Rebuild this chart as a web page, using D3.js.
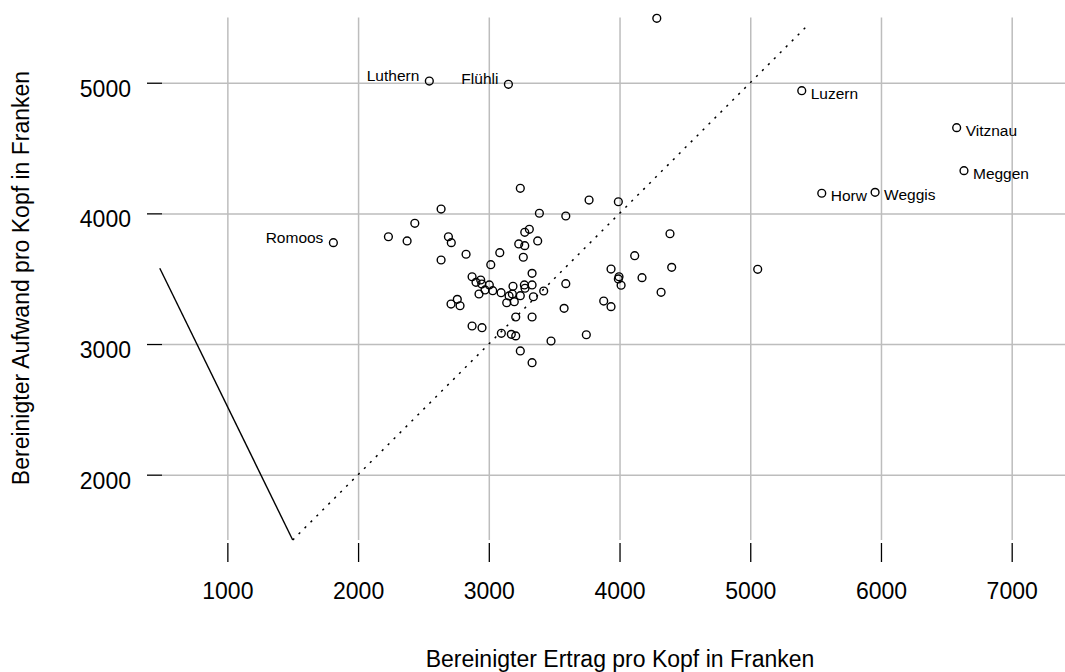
<!DOCTYPE html>
<html>
<head>
<meta charset="utf-8">
<script src="https://cdn.jsdelivr.net/npm/d3@7"></script>
<style>
  body { margin: 0; background: #fff; }
  text { font-family: "Liberation Sans", Arial, sans-serif; fill: #000; }
  .grid line { stroke: #bdbdbd; stroke-width: 1.5; }
  .grid .domain { display: none; }
  .axis .domain { display: none; }
  .axis line { stroke: #000; stroke-width: 1.3; }
</style>
</head>
<body>
<div id="chart"></div>
<script>
// Bereinigter Ertrag (x) und Aufwand (y) pro Kopf, Gemeinden Kanton Luzern
const ertrag = [
    3241, 3767, 3991, 2635, 3387, 3589, 2434, 4386, 2375, 2691,
    2713, 3275, 3310, 3374, 3229, 3275, 3084, 2826, 2635, 3264,
    4116, 4399, 3015, 3935, 3331, 2872, 3996, 2902, 2938, 2946,
    3004, 2971, 3030, 2925, 3094, 3185, 3272, 3277, 3331, 3420,
    3589, 4172, 4012, 3991, 4318, 3155, 3180, 3241, 3341, 3137,
    3195, 2759, 2711, 2780, 3879, 3935, 3206, 3331, 3576, 2872,
    2948, 3096, 3172, 3206, 3746, 3476, 3241, 3331, 2232, 4285,
    5057,
    1811, 2545, 3150, 5394, 6579, 6635, 5547, 5955
];
const aufwand = [
    4192, 4102, 4089, 4033, 4001, 3980, 3924, 3844, 3789, 3821,
    3776, 3855, 3878, 3789, 3766, 3753, 3699, 3687, 3643, 3664,
    3676, 3587, 3607, 3574, 3541, 3515, 3515, 3472, 3490, 3459,
    3452, 3414, 3408, 3383, 3393, 3442, 3452, 3427, 3452, 3406,
    3462, 3508, 3450, 3498, 3396, 3368, 3383, 3370, 3362, 3316,
    3324, 3342, 3306, 3293, 3329, 3286, 3207, 3207, 3273, 3138,
    3125, 3082, 3074, 3062, 3071, 3023, 2947, 2857, 3821, 5493,
    3572,
    3776, 5013, 4988, 4939, 4656, 4327, 4154, 4161
];
const gemeinde = [
    "", "", "", "", "", "", "", "", "", "",
    "", "", "", "", "", "", "", "", "", "",
    "", "", "", "", "", "", "", "", "", "",
    "", "", "", "", "", "", "", "", "", "",
    "", "", "", "", "", "", "", "", "", "",
    "", "", "", "", "", "", "", "", "", "",
    "", "", "", "", "", "", "", "", "", "",
    "",
    "Romoos", "Luthern", "Flühli", "Luzern", "Vitznau", "Meggen", "Horw", "Weggis"
];
const labelsLeft = ["Romoos", "Luthern", "Flühli"];

const xTicks = [1000, 2000, 3000, 4000, 5000, 6000, 7000];
const yTicks = [2000, 3000, 4000, 5000];

// Winkelhalbierende (gepunktet) und Hilfslinie (durchgezogen)
const diagX = [1500, 5450];
const diagY = [1500, 5450];
const refX = [483, 1500];
const refY = [3580, 1500];

const xLab = "Bereinigter Ertrag pro Kopf in Franken";
const yLab = "Bereinigter Aufwand pro Kopf in Franken";

const width = 1065;
const height = 672;
const margin = { top: 17.4, left: 162 };
const innerWidth = 904.6;
const innerHeight = 522.6;
const font = "Liberation Sans, Arial, sans-serif";

const svg = d3.select("#chart")
    .append("svg")
    .attr("width", width)
    .attr("height", height);

svg.append("rect").attr("width", width).attr("height", height).attr("fill", "#fff");

const g = svg.append("g")
    .attr("transform", `translate(${margin.left},${margin.top})`);

const xScale = d3.scaleLinear().domain([500, 7420]).range([0, innerWidth]);
const yScale = d3.scaleLinear().domain([1500, 5500]).range([innerHeight, 0]);

// grid (no tick labels)
g.append("g")
    .attr("class", "grid")
    .attr("transform", `translate(0,${innerHeight})`)
    .call(d3.axisBottom(xScale).tickValues(xTicks).tickSize(-innerHeight))
    .call(s => s.selectAll("text").remove());

g.append("g")
    .attr("class", "grid")
    .call(d3.axisLeft(yScale).tickValues(yTicks).tickSize(-innerWidth))
    .call(s => s.selectAll("text").remove());

// X axis (ticks only, set off below the plot)
g.append("g")
    .attr("class", "axis")
    .attr("transform", `translate(0,${innerHeight + 3})`)
    .call(d3.axisBottom(xScale).tickValues(xTicks).tickSize(19).tickPadding(21).tickFormat(d3.format("d")))
    .attr("font-size", 23)
    .attr("font-family", font);

// Y axis
g.append("g")
    .attr("class", "axis")
    .call(d3.axisLeft(yScale).tickValues(yTicks).tickSize(15).tickPadding(16).tickFormat(d3.format("d")))
    .attr("font-size", 23)
    .attr("font-family", font)
    .call(s => s.selectAll("text").attr("dy", "0.59em"));

// lines
const line = d3.line().x(d => xScale(d[0])).y(d => yScale(d[1]));

g.append("path")
    .datum(diagX.map((v, i) => [v, diagY[i]]))
    .attr("d", line)
    .attr("fill", "none")
    .attr("stroke", "#000")
    .attr("stroke-width", 1.5)
    .attr("stroke-dasharray", "2.2,6.2");

g.append("path")
    .datum(refX.map((v, i) => [v, refY[i]]))
    .attr("d", line)
    .attr("fill", "none")
    .attr("stroke", "#000")
    .attr("stroke-width", 1.4);

// points
const pts = ertrag.map((v, i) => ({ x: v, y: aufwand[i], name: gemeinde[i] }));

g.selectAll(".pt")
    .data(pts)
    .enter()
    .append("circle")
    .attr("class", "pt")
    .attr("cx", d => xScale(d.x))
    .attr("cy", d => yScale(d.y))
    .attr("r", 3.9)
    .attr("fill", "none")
    .attr("stroke", "#000")
    .attr("stroke-width", 1.4);

// labels
g.selectAll(".lbl")
    .data(pts.filter(d => d.name !== ""))
    .enter()
    .append("text")
    .attr("class", "lbl")
    .attr("x", d => xScale(d.x) + (labelsLeft.includes(d.name) ? -10 : 9))
    .attr("y", d => yScale(d.y) + (labelsLeft.includes(d.name) ? 0 : 8))
    .attr("text-anchor", d => labelsLeft.includes(d.name) ? "end" : "start")
    .attr("font-size", "15.5px")
    .text(d => d.name);

// axis titles
svg.append("text")
    .attr("x", 620)
    .attr("y", 667)
    .attr("text-anchor", "middle")
    .attr("font-size", "23px")
    .text(xLab);

svg.append("text")
    .attr("transform", "translate(29,278) rotate(-90)")
    .attr("text-anchor", "middle")
    .attr("font-size", "23px")
    .text(yLab);
</script>
</body>
</html>
